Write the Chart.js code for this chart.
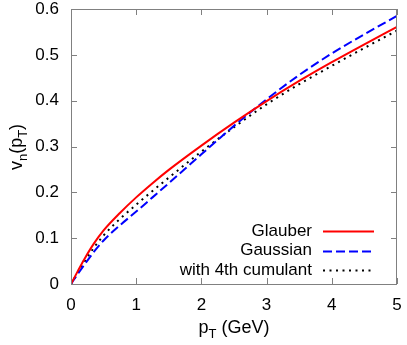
<!DOCTYPE html>
<html lang="en">
  <head>
    <meta charset="UTF-8" />
    <title>vn(pT)</title>
    <script src="https://cdn.jsdelivr.net/npm/chart.js"></script>
    <style>
      html, body { margin: 0; padding: 0; background: #fff; }
      #wrap { width: 407px; height: 345px; }
    </style>
  </head>
  <body>
    <div id="wrap"><canvas id="vnChart" width="407" height="345"></canvas></div>

    <script>
      // pT values (GeV)
      const pT = [0, 0.1, 0.2, 0.35, 0.5, 0.75, 1, 1.25, 1.5, 2, 2.5, 3, 3.5, 4, 4.5, 5];
      // v_n(pT)
      const glauber = [0, 0.027, 0.053, 0.088, 0.117, 0.155, 0.189, 0.22, 0.249, 0.302, 0.352, 0.399, 0.443, 0.484, 0.523, 0.561];
      const gaussian = [0, 0.021, 0.041, 0.07, 0.095, 0.128, 0.158, 0.189, 0.22, 0.283, 0.345, 0.403, 0.456, 0.503, 0.545, 0.585];
      const cumulant4 = [0, 0.024, 0.047, 0.079, 0.106, 0.142, 0.173, 0.203, 0.232, 0.289, 0.342, 0.392, 0.436, 0.476, 0.515, 0.553];
      const xTicks = [0, 1, 2, 3, 4, 5];
      const yTicks = [0, 0.1, 0.2, 0.3, 0.4, 0.5, 0.6];

      const FONT = "'Liberation Sans', Arial, sans-serif";
      const frameColor = "#808080";

      const toPts = (ys) => ys.map((y, i) => ({ x: pT[i], y: y }));

      // frame with inward ticks on all four sides, gnuplot style
      const framePlugin = {
        id: "frame",
        afterDatasetsDraw(chart) {
          const { ctx, chartArea: a, scales } = chart;
          const len = 6;
          ctx.save();
          ctx.strokeStyle = frameColor;
          ctx.lineWidth = 1;
          ctx.strokeRect(a.left + 0.5, a.top + 0.5, a.right - a.left - 1, a.bottom - a.top);
          ctx.beginPath();
          xTicks.forEach((v) => {
            const px = Math.round(scales.x.getPixelForValue(v)) + 0.5;
            ctx.moveTo(px, a.bottom); ctx.lineTo(px, a.bottom - len);
            ctx.moveTo(px, a.top); ctx.lineTo(px, a.top + len);
          });
          yTicks.forEach((v) => {
            const py = Math.round(scales.y.getPixelForValue(v)) + 0.5;
            ctx.moveTo(a.left, py); ctx.lineTo(a.left + len, py);
            ctx.moveTo(a.right, py); ctx.lineTo(a.right - len, py);
          });
          ctx.stroke();
          ctx.restore();
        },
      };

      // axis titles with subscripts
      function drawSub(ctx, parts, x, y) {
        // parts: [text, isSub]
        const big = "18px " + FONT, small = "13px " + FONT;
        let total = 0;
        parts.forEach(([t, sub]) => { ctx.font = sub ? small : big; total += ctx.measureText(t).width; });
        let cx = x - total / 2;
        parts.forEach(([t, sub]) => {
          ctx.font = sub ? small : big;
          ctx.fillText(t, cx, sub ? y + 5 : y);
          cx += ctx.measureText(t).width;
        });
      }

      const titlePlugin = {
        id: "titles",
        afterDraw(chart) {
          const { ctx, chartArea: a } = chart;
          ctx.save();
          ctx.fillStyle = "#000";
          ctx.textAlign = "left";
          ctx.textBaseline = "alphabetic";
          drawSub(ctx, [["p", false], ["T", true], [" (GeV)", false]], (a.left + a.right) / 2, 333);
          ctx.translate(22, 147);
          ctx.rotate(-Math.PI / 2);
          drawSub(ctx, [["v", false], ["n", true], ["(p", false], ["T", true], [")", false]], 0, 0);
          ctx.restore();
        },
      };

      // legend in the lower right, text right-aligned before the line sample
      const legendPlugin = {
        id: "innerLegend",
        afterDraw(chart) {
          const { ctx } = chart;
          ctx.save();
          ctx.font = "17px " + FONT;
          ctx.textAlign = "right";
          ctx.textBaseline = "middle";
          chart.data.datasets.forEach((ds, i) => {
            const y = 231 + i * 19.5;
            ctx.fillStyle = "#000";
            ctx.fillText(ds.label, 312, y);
            ctx.strokeStyle = ds.borderColor;
            ctx.lineWidth = ds.borderWidth;
            ctx.setLineDash(ds.borderDash || []);
            ctx.beginPath();
            ctx.moveTo(323, Math.round(y) + 0.5);
            ctx.lineTo(374, Math.round(y) + 0.5);
            ctx.stroke();
          });
          ctx.restore();
        },
      };

      const ctx = document.getElementById("vnChart").getContext("2d");
      new Chart(ctx, {
        type: "line",
        data: {
          datasets: [
            {
              label: "Glauber",
              data: toPts(glauber),
              borderColor: "#ff0000",
              borderWidth: 2,
              pointRadius: 0,
              cubicInterpolationMode: "monotone",
            },
            {
              label: "Gaussian",
              data: toPts(gaussian),
              borderColor: "#0000ff",
              borderWidth: 2,
              borderDash: [9, 4],
              pointRadius: 0,
              cubicInterpolationMode: "monotone",
            },
            {
              label: "with 4th cumulant",
              data: toPts(cumulant4),
              borderColor: "#000000",
              borderWidth: 2,
              borderDash: [2, 4.5],
              pointRadius: 0,
              cubicInterpolationMode: "monotone",
            },
          ],
        },
        options: {
          responsive: false,
          animation: false,
          layout: { padding: { left: 0, top: 9, right: 10, bottom: 0 } },
          plugins: { legend: { display: false }, tooltip: { enabled: false } },
          scales: {
            x: {
              type: "linear",
              min: 0,
              max: 5,
              afterFit: (s) => { s.height = 61; s.paddingLeft = 0; s.paddingRight = 0; },
              afterBuildTicks: (s) => { s.ticks = xTicks.map((v) => ({ value: v })); },
              grid: { display: false, drawTicks: false },
              border: { display: false },
              ticks: { color: "#000", padding: 11, font: { family: FONT, size: 17 }, maxRotation: 0 },
            },
            y: {
              min: 0,
              max: 0.6,
              afterFit: (s) => { s.width = 71; s.paddingTop = 0; s.paddingBottom = 0; },
              afterBuildTicks: (s) => { s.ticks = yTicks.map((v) => ({ value: v })); },
              grid: { display: false, drawTicks: false },
              border: { display: false },
              ticks: {
                color: "#000",
                padding: 12,
                font: { family: FONT, size: 17 },
                callback: (v) => (v === 0 ? "0" : v.toFixed(1)),
              },
            },
          },
        },
        plugins: [framePlugin, titlePlugin, legendPlugin],
      });
    </script>
  </body>
</html>
